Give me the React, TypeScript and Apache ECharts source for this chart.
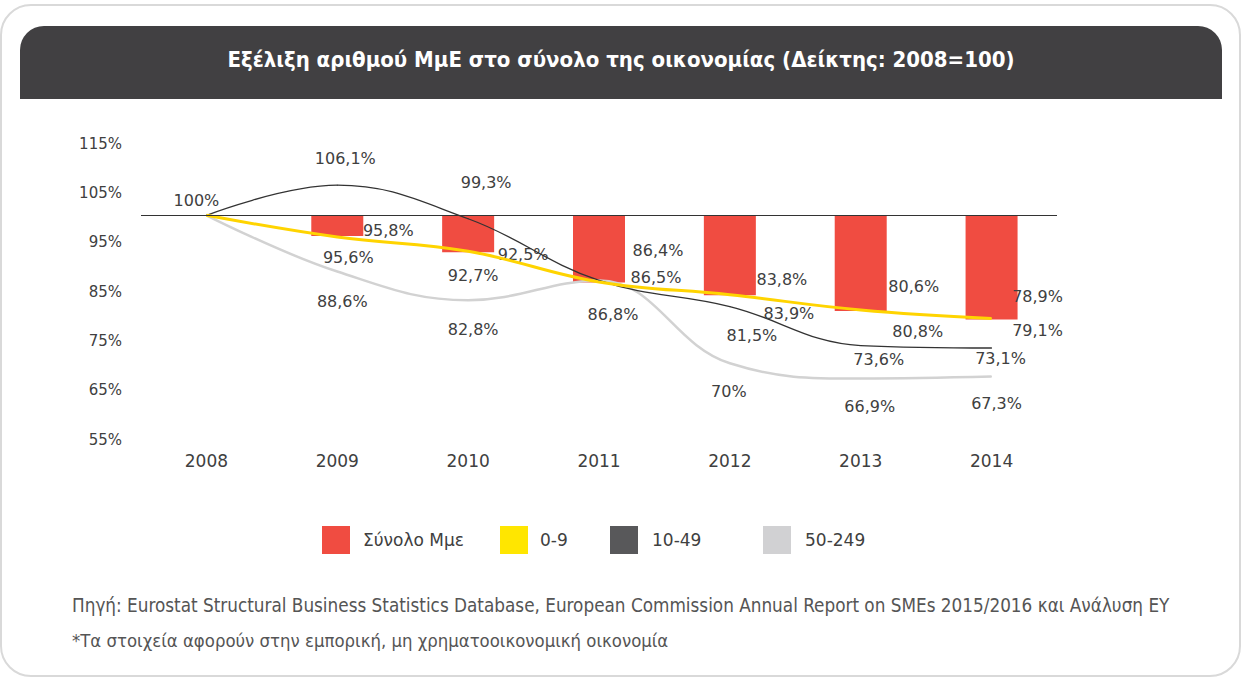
import React, { useEffect, useRef } from "react";
import * as echarts from "echarts";

// ---- data ----
const years = ["2008", "2009", "2010", "2011", "2012", "2013", "2014"];
const totalSME = [100, 95.8, 92.5, 86.4, 83.8, 80.6, 78.9];
const micro0to9 = [100, 95.6, 92.7, 86.5, 83.9, 80.8, 79.1];
const small10to49 = [100, 106.1, 99.3, 86.8, 81.5, 73.6, 73.1];
const medium50to249 = [100, 88.6, 82.8, 86.8, 70, 66.9, 67.3];
const yTicks = [55, 65, 75, 85, 95, 105, 115];
const seriesNames = ["Σύνολο Μμε", "0-9", "10-49", "50-249"];
const titleText = "Εξέλιξη αριθμού ΜμΕ στο σύνολο της οικονομίας (Δείκτης: 2008=100)";
const sourceText =
  "Πηγή: Eurostat Structural Business Statistics Database, European Commission Annual Report on SMEs 2015/2016 και Ανάλυση ΕΥ";
const noteText = "*Τα στοιχεία αφορούν στην εμπορική, μη χρηματοοικονομική οικονομία";

// ---- label placement (pixel offsets from each point) ----
type Off = [number, number] | null;
const totalOff: Off[] = [null, [51, 3], [55, 11], [59, -23], [52, -7], [53, -16], [46, -14]];
const microOff: Off[] = [null, [11, 20], [5, 24], [57, -4], [59, 19], [57, 21], [46, 12]];
const smallOff: Off[] = [[-10, -15], [8, -27], [18, -36], null, [22, 29], [18, 14], [9, 10]];
const mediumOff: Off[] = [null, [5, 30], [5, 29], [14, 34], [-1, 28], [9, 28], [5, 27]];

const FONT = "DejaVu Sans";
const COND = "DejaVu Sans Condensed, DejaVu Sans";
const TXT = "#404040";
const RED = "#f04c41";
const YELLOW = "#ffd400";
const DARK = "#333333";
const LIGHT = "#d2d2d2";

const fmt = (v: number) =>
  (Number.isInteger(v) ? String(v) : v.toFixed(1).replace(".", ",")) + "%";

const withLabels = (vals: number[], offs: Off[]) =>
  vals.map((v, i) => ({
    value: v,
    label: offs[i] ? { show: true, offset: offs[i] } : { show: false },
  }));

const labelBase = {
  color: TXT,
  fontSize: 16,
  fontFamily: FONT,
  lineHeight: 18,
  formatter: (p: any) => fmt(typeof p.value === "number" ? p.value : p.data.value),
};

const lineSeries = (name: string, vals: number[], offs: Off[], color: string, width: number) => ({
  type: "line",
  name,
  data: withLabels(vals, offs),
  smooth: 0.4,
  clip: false,
  symbol: "circle",
  symbolSize: 1,
  itemStyle: { color },
  lineStyle: { color, width },
  label: { ...labelBase, position: "inside", align: "center", verticalAlign: "middle" },
  emphasis: { disabled: true },
  z: 3,
});

const legendItem = (name: string, left: number, color: string, pad: number) => ({
  left,
  top: 526,
  padding: 0,
  orient: "horizontal",
  icon: "rect",
  itemWidth: 28,
  itemHeight: 28,
  selectedMode: false,
  data: [{ name, itemStyle: { color } }],
  textStyle: { color: TXT, fontSize: 17, fontFamily: FONT, padding: [0, 0, 0, pad] },
});

export default function App() {
  const ref = useRef<HTMLDivElement>(null);

  useEffect(() => {
    const chart = echarts.init(ref.current!, null, { renderer: "svg" });
    const option: any = {
      animation: false,
      backgroundColor: "#ffffff",
      grid: { left: 141, right: 185, top: 141.3, bottom: 239.7, containLabel: false },
      xAxis: {
        type: "category",
        data: years,
        boundaryGap: true,
        axisLine: { show: false },
        axisTick: { show: false },
        axisLabel: { color: TXT, fontSize: 17, fontFamily: FONT, margin: 15 },
      },
      yAxis: {
        type: "value",
        min: 55,
        max: 115,
        axisLine: { show: false },
        axisTick: { show: false },
        splitLine: { show: false },
        axisLabel: {
          customValues: yTicks,
          formatter: (v: number) => v + "%",
          color: TXT,
          fontSize: 15,
          fontFamily: FONT,
          margin: 19,
          verticalAlign: "top",
          lineHeight: 5,
        },
      },
      legend: [
        legendItem(seriesNames[0], 322, RED, 8),
        legendItem(seriesNames[1], 500, "#ffe600", 7),
        legendItem(seriesNames[2], 610, "#58585a", 9),
        legendItem(seriesNames[3], 763, "#d1d1d3", 9),
      ],
      series: [
        {
          type: "bar",
          name: "base",
          stack: "total",
          barWidth: 52,
          silent: true,
          itemStyle: { color: "transparent" },
          data: withLabels(totalSME, totalOff),
          label: { ...labelBase, position: "top", distance: 0 },
          emphasis: { disabled: true },
        },
        {
          type: "bar",
          name: seriesNames[0],
          stack: "total",
          barWidth: 52,
          itemStyle: { color: RED },
          data: totalSME.map((v) => +(100 - v).toFixed(1)),
          emphasis: { disabled: true },
          markLine: {
            silent: true,
            symbol: ["none", "none"],
            label: { show: false },
            lineStyle: { color: DARK, width: 1, type: "solid" },
            data: [{ yAxis: 100 }],
          },
        },
        lineSeries(seriesNames[3], medium50to249, mediumOff, LIGHT, 2.5),
        lineSeries(seriesNames[2], small10to49, smallOff, DARK, 1.3),
        lineSeries(seriesNames[1], micro0to9, microOff, YELLOW, 3),
      ],
      graphic: [
        {
          type: "rect",
          z: -10,
          silent: true,
          shape: { x: 1, y: 5, width: 1239, height: 671, r: 30 },
          style: { fill: "#ffffff", stroke: "#d9d9d9", lineWidth: 2 },
        },
        {
          type: "rect",
          z: -9,
          silent: true,
          shape: { x: 20, y: 26, width: 1202, height: 73, r: [24, 24, 0, 0] },
          style: { fill: "#414042" },
        },
        {
          type: "text",
          z: 5,
          silent: true,
          x: 621,
          y: 59,
          style: {
            text: titleText,
            fill: "#ffffff",
            fontSize: 22,
            fontWeight: "bold",
            fontFamily: COND,
            align: "center",
            verticalAlign: "middle",
          },
        },
        {
          type: "text",
          z: 5,
          silent: true,
          x: 72,
          y: 605,
          style: {
            text: sourceText,
            fill: "#555555",
            fontSize: 18.75,
            fontFamily: COND,
            align: "left",
            verticalAlign: "middle",
          },
        },
        {
          type: "text",
          z: 5,
          silent: true,
          x: 72,
          y: 640,
          style: {
            text: noteText,
            fill: "#555555",
            fontSize: 18.4,
            fontFamily: COND,
            align: "left",
            verticalAlign: "middle",
          },
        },
      ],
    };
    chart.setOption(option);
    return () => chart.dispose();
  }, []);

  return (
    <div
      ref={ref}
      style={{ position: "absolute", left: 0, top: 0, width: 1242, height: 677, background: "#fff" }}
    />
  );
}
